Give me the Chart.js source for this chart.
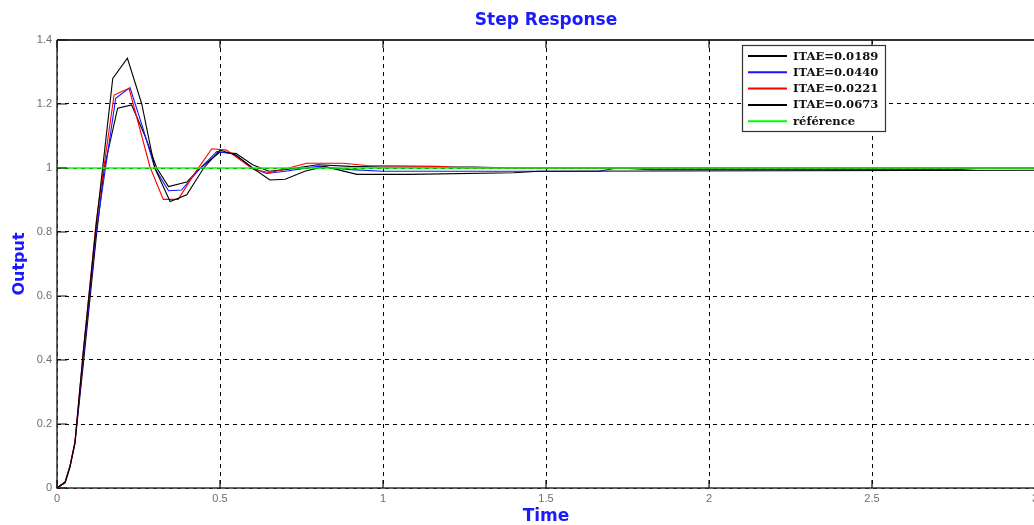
<!DOCTYPE html>
<html>
<head>
<meta charset="utf-8">
<script src="https://cdn.jsdelivr.net/npm/chart.js@4.4.1/dist/chart.umd.min.js"></script>
<style>
html,body{margin:0;padding:0;background:#fff;overflow:hidden;}
#wrap{width:1040px;height:525px;}
</style>
</head>
<body>
<div id="wrap"><canvas id="c" width="1040" height="525"></canvas></div>
<script>
// ---- data ----
const xTicks = [0, 0.5, 1, 1.5, 2, 2.5, 3];
const yTicks = [0, 0.2, 0.4, 0.6, 0.8, 1, 1.2, 1.4];
const seriesLabels = ['ITAE=0.0189', 'ITAE=0.0440', 'ITAE=0.0221', 'ITAE=0.0673', 'référence'];

const t1 = [0, 0.025, 0.04, 0.055, 0.08, 0.12, 0.145, 0.186, 0.229, 0.27, 0.306, 0.342, 0.398, 0.44, 0.5, 0.55, 0.6, 0.65, 0.7, 0.8, 0.9, 1.0, 1.28, 1.4, 3.0];
const y1 = [0, 0.02, 0.07, 0.14, 0.38, 0.78, 1.0, 1.187, 1.197, 1.1, 1.0, 0.942, 0.956, 1.0, 1.05, 1.045, 1.01, 0.99, 0.995, 1.01, 1.005, 1.003, 1.003, 1.0, 1.0];

const t2 = [0, 0.025, 0.04, 0.055, 0.08, 0.12, 0.18, 0.224, 0.265, 0.3, 0.342, 0.382, 0.44, 0.49, 0.54, 0.6, 0.643, 0.7, 0.8, 0.9, 1.0, 1.66, 1.72, 1.82, 2.76, 2.85, 3.0];
const y2 = [0, 0.017, 0.065, 0.14, 0.4, 0.8, 1.218, 1.251, 1.12, 1.0, 0.929, 0.931, 1.0, 1.051, 1.045, 1.0, 0.983, 0.99, 1.005, 0.995, 0.99, 0.99, 1.0, 0.995, 0.995, 1.0, 1.0];

const t3 = [0, 0.025, 0.04, 0.055, 0.08, 0.12, 0.175, 0.221, 0.285, 0.326, 0.372, 0.42, 0.475, 0.52, 0.602, 0.653, 0.766, 0.878, 0.95, 1.17, 1.25, 3.0];
const y3 = [0, 0.018, 0.07, 0.145, 0.42, 0.83, 1.228, 1.249, 1.004, 0.902, 0.902, 0.98, 1.06, 1.056, 0.996, 0.985, 1.015, 1.015, 1.008, 1.005, 1.0, 1.0];

const t4 = [0, 0.025, 0.04, 0.055, 0.08, 0.12, 0.171, 0.216, 0.26, 0.3, 0.347, 0.398, 0.45, 0.5, 0.55, 0.6, 0.653, 0.7, 0.76, 0.82, 0.92, 1.08, 1.4, 1.48, 3.0];
const y4 = [0, 0.017, 0.067, 0.14, 0.42, 0.82, 1.28, 1.343, 1.2, 1.0, 0.895, 0.916, 1.0, 1.056, 1.04, 1.0, 0.9625, 0.965, 0.99, 1.005, 0.98, 0.98, 0.985, 0.99, 0.993];

const tRef = [0, 3];
const yRef = [1, 1];

const colors = ['#000000', '#1414ff', '#ff0000', '#000000', '#00ff00'];

function pts(t, y) { return t.map((v, i) => ({x: v, y: y[i]})); }
const allT = [t1, t2, t3, t4, tRef];
const allY = [y1, y2, y3, y4, yRef];

const datasets = seriesLabels.map((lab, i) => ({
  label: lab,
  data: pts(allT[i], allY[i]),
  borderColor: colors[i],
  borderWidth: i === 4 ? 1.6 : 1.1,
  pointRadius: 0,
  tension: 0,
  fill: false,
  order: 5 - i
}));

const fmt = v => String(+Number(v).toFixed(2));

// custom frame, inner ticks, legend
const framePlugin = {
  id: 'frame',
  afterDraw(chart) {
    const {ctx, chartArea: a, scales} = chart;
    ctx.save();
    ctx.setLineDash([]);
    ctx.strokeStyle = '#333';
    ctx.lineWidth = 2;
    ctx.beginPath();
    ctx.moveTo(a.left, a.top); ctx.lineTo(a.right, a.top);
    ctx.stroke();
    ctx.lineWidth = 1.5;
    ctx.beginPath();
    ctx.moveTo(a.left, a.top); ctx.lineTo(a.left, a.bottom); ctx.lineTo(a.right, a.bottom);
    ctx.stroke();
    ctx.lineWidth = 1.2;
    ctx.strokeStyle = '#111';
    ctx.beginPath();
    yTicks.forEach(v => {
      const py = scales.y.getPixelForValue(v);
      ctx.moveTo(a.left, py); ctx.lineTo(a.left + 10, py);
    });
    xTicks.forEach(v => {
      const px = scales.x.getPixelForValue(v);
      ctx.moveTo(px, a.bottom); ctx.lineTo(px, a.bottom - 8);
      ctx.moveTo(px, a.top); ctx.lineTo(px, a.top + 8);
    });
    ctx.stroke();

    // legend box
    const bx = 742.5, by = 45.5, bw = 143, bh = 86;
    ctx.fillStyle = '#fff';
    ctx.fillRect(bx, by, bw, bh);
    ctx.strokeStyle = '#333';
    ctx.lineWidth = 1.2;
    ctx.strokeRect(bx, by, bw, bh);
    ctx.font = 'bold 11.6px "DejaVu Serif"';
    ctx.textBaseline = 'middle';
    ctx.textAlign = 'left';
    chart.data.datasets.forEach((ds, i) => {
      const ry = 56 + i * 16.3;
      ctx.strokeStyle = ds.borderColor;
      ctx.lineWidth = 2;
      ctx.beginPath();
      ctx.moveTo(748, ry); ctx.lineTo(787, ry);
      ctx.stroke();
      ctx.fillStyle = '#111';
      ctx.fillText(ds.label, 793, ry + 0.5);
    });
    ctx.restore();
  }
};

new Chart(document.getElementById('c'), {
  type: 'line',
  data: {datasets},
  options: {
    responsive: false,
    animation: false,
    layout: {padding: {left: 0, right: 5, top: 0, bottom: 0}},
    plugins: {
      legend: {display: false},
      tooltip: {enabled: false},
      title: {
        display: true,
        fullSize: false,
        text: 'Step Response',
        color: '#1a1aff',
        font: {family: '"DejaVu Sans"', size: 17, weight: 'bold', lineHeight: 1.2},
        padding: {top: 10, bottom: 9.6}
      }
    },
    scales: {
      x: {
        type: 'linear',
        min: 0, max: 3,
        afterBuildTicks(s) { s.ticks = xTicks.map(v => ({value: v})); },
        afterFit(s) { s.height = 37; s.paddingLeft = 0; s.paddingRight = 0; },
        grid: {color: '#000', lineWidth: 1, tickLength: 0, drawTicks: false},
        border: {display: false, dash: [4, 4]},
        ticks: {color: '#6e6e6e', padding: 4, font: {family: '"Liberation Sans"', size: 11}, maxRotation: 0, callback: fmt},
        title: {display: true, text: 'Time', color: '#1a1aff', font: {family: '"DejaVu Sans"', size: 17, weight: 'bold', lineHeight: 1}, padding: {top: 0, bottom: 0}}
      },
      y: {
        type: 'linear',
        min: 0, max: 1.4,
        afterBuildTicks(s) { s.ticks = yTicks.map(v => ({value: v})); },
        afterFit(s) { s.width = 57; s.paddingTop = 0; s.paddingBottom = 0; },
        grid: {color: '#000', lineWidth: 1, tickLength: 0, drawTicks: false},
        border: {display: false, dash: [4, 4]},
        ticks: {color: '#6e6e6e', padding: 5, font: {family: '"Liberation Sans"', size: 11}, callback: fmt},
        title: {display: true, text: 'Output', color: '#1a1aff', font: {family: '"DejaVu Sans"', size: 16, weight: 'bold', lineHeight: 1.2}, padding: {top: 10, bottom: 0}}
      }
    }
  },
  plugins: [framePlugin]
});
</script>
</body>
</html>
